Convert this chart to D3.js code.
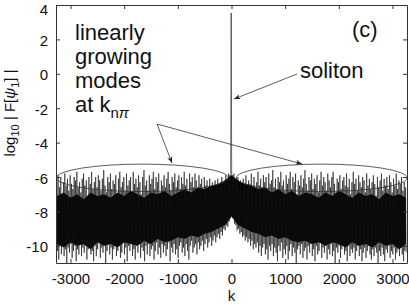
<!DOCTYPE html>
<html>
<head>
<meta charset="utf-8">
<script src="https://cdn.jsdelivr.net/npm/d3@7"></script>
<style>
  body { margin: 0; background: #fff; }
  svg text { font-family: "Liberation Sans", Arial, sans-serif; fill: #111; }
</style>
</head>
<body>
<div id="chart"></div>
<script>
// spectrum sampled every 25 in k, from -3250 to 3250 (index 130 is k = 0)
const kStart = -3250, kStep = 25;
const peaks = [
  -6.2,-5.9,-6.6,-6.0,-7.0,-6.3,-5.8,-6.5,-6.1,-6.8,
  -5.9,-6.4,-6.7,-6.0,-6.2,-5.7,-6.6,-6.3,-6.9,-6.1,
  -5.8,-6.5,-6.2,-7.1,-6.0,-6.4,-5.7,-6.7,-6.3,-6.0,
  -6.6,-5.9,-6.2,-6.8,-6.1,-5.6,-6.5,-6.9,-6.0,-6.3,
  -5.8,-6.7,-6.2,-6.4,-5.9,-7.0,-6.1,-5.7,-6.6,-6.3,
  -6.0,-6.8,-5.8,-6.5,-6.2,-6.0,-6.9,-5.7,-6.4,-6.1,
  -6.6,-5.9,-6.3,-7.0,-6.0,-5.6,-6.5,-6.2,-6.8,-5.9,
  -6.4,-6.1,-5.7,-6.7,-6.0,-6.3,-5.8,-6.9,-6.2,-6.5,
  -5.9,-6.6,-6.1,-5.7,-6.4,-6.8,-6.0,-6.3,-5.8,-6.6,
  -6.2,-5.9,-6.7,-6.0,-6.4,-5.7,-6.5,-6.1,-6.9,-5.8,
  -6.3,-6.0,-6.6,-5.8,-6.2,-6.8,-5.9,-6.4,-6.1,-6.7,
  -6.0,-6.5,-6.2,-6.9,-6.1,-6.6,-6.3,-7.0,-6.2,-6.5,
  -6.1,-6.6,-6.3,-6.0,-6.4,-6.2,-5.9,-6.1,-5.8,-5.9,
  3.54,
  -5.9,-5.8,-6.1,-6.3,-6.0,-6.6,-6.2,-6.8,-6.1,-6.5,
  -5.9,-6.7,-6.2,-6.4,-5.8,-6.6,-6.0,-6.9,-6.3,-5.7,
  -6.5,-6.1,-6.8,-5.9,-6.3,-6.0,-6.7,-5.8,-6.4,-6.2,
  -5.6,-6.6,-6.1,-6.9,-6.0,-6.3,-5.7,-6.5,-6.2,-6.8,
  -5.9,-6.4,-6.1,-5.7,-6.7,-6.0,-6.3,-5.8,-7.0,-6.2,
  -6.5,-5.9,-6.6,-6.1,-5.6,-6.4,-6.8,-6.0,-6.2,-5.8,
  -6.7,-6.1,-6.4,-5.9,-6.9,-6.2,-5.7,-6.5,-6.0,-6.3,
  -6.8,-5.8,-6.2,-6.6,-6.0,-5.7,-6.4,-6.9,-6.1,-6.3,
  -5.9,-6.7,-6.2,-6.0,-6.5,-5.8,-6.6,-6.1,-7.0,-6.3,
  -5.7,-6.4,-6.1,-6.8,-5.9,-6.3,-6.6,-6.0,-6.2,-6.9,
  -5.8,-6.5,-6.1,-6.7,-6.3,-5.9,-6.4,-7.1,-6.0,-6.6,
  -6.2,-5.8,-6.8,-6.1,-6.5,-6.0,-6.7,-5.9,-6.3,-6.9,
  -6.1,-6.5,-5.8,-6.7,-6.2,-6.4,-6.0,-6.8,-6.3,-6.6
];
const troughs = [
  -10.3,-10.8,-10.0,-10.5,-9.8,-10.6,-10.2,-11.0,-10.1,-10.4,
  -9.9,-10.7,-10.3,-10.0,-10.9,-10.2,-10.5,-9.8,-10.6,-10.1,
  -10.4,-10.0,-10.8,-10.2,-9.9,-10.5,-10.3,-10.9,-10.0,-10.6,
  -10.2,-9.8,-10.7,-10.1,-10.4,-10.0,-11.0,-10.3,-9.9,-10.5,
  -10.1,-10.8,-10.2,-9.9,-10.6,-10.3,-10.0,-10.7,-10.4,-9.8,
  -10.5,-10.1,-10.9,-10.0,-10.3,-9.9,-10.6,-10.2,-10.8,-10.0,
  -10.4,-9.8,-10.7,-10.1,-10.3,-10.9,-10.0,-10.5,-9.9,-10.6,
  -10.2,-10.0,-10.8,-10.3,-9.8,-10.5,-10.1,-10.7,-9.9,-10.4,
  -10.0,-10.6,-10.2,-9.8,-10.9,-10.1,-10.4,-9.9,-10.5,-10.2,
  -10.7,-10.0,-9.8,-10.4,-10.1,-10.6,-9.9,-10.3,-10.8,-10.0,
  -9.7,-10.4,-10.1,-9.9,-10.5,-9.8,-10.2,-10.0,-9.7,-10.3,
  -9.9,-9.6,-10.1,-9.8,-9.5,-10.0,-9.7,-9.4,-9.8,-9.5,
  -9.3,-9.6,-9.2,-9.4,-9.0,-9.1,-8.8,-8.9,-8.6,-8.4,
  -8.2,
  -8.4,-8.7,-8.8,-9.1,-9.0,-9.3,-9.2,-9.5,-9.4,-9.7,
  -9.5,-9.8,-9.6,-10.0,-9.7,-10.2,-9.9,-10.1,-9.8,-10.4,
  -10.0,-10.6,-10.1,-9.9,-10.5,-10.2,-10.8,-10.0,-10.3,-9.9,
  -10.6,-10.1,-10.4,-10.9,-10.0,-10.3,-9.8,-10.7,-10.2,-10.5,
  -10.0,-10.8,-10.3,-9.9,-10.6,-10.1,-10.4,-11.0,-10.2,-10.0,
  -10.5,-9.9,-10.7,-10.3,-10.1,-10.8,-10.0,-10.4,-9.9,-10.6,
  -10.2,-10.9,-10.0,-10.5,-10.3,-9.8,-10.7,-10.1,-10.4,-10.0,
  -10.8,-10.2,-10.5,-9.9,-10.6,-10.3,-11.0,-10.1,-10.4,-10.0,
  -10.7,-10.2,-9.9,-10.5,-10.3,-10.9,-10.0,-10.6,-10.2,-10.4,
  -10.1,-10.8,-10.3,-10.0,-10.6,-10.2,-10.9,-10.4,-10.1,-10.7,
  -10.3,-10.0,-10.5,-10.8,-10.2,-10.6,-10.1,-10.4,-11.0,-10.3,
  -10.6,-10.1,-10.5,-10.9,-10.2,-10.4,-10.0,-10.7,-10.3,-10.5,
  -10.1,-10.8,-10.4,-10.2,-10.6,-10.0,-10.5,-10.9,-10.3,-10.4
];

// dense (solid black) part of the noise, every 125 in k from -3250 (index 26 is k = 0)
const coreStart = -3250, coreStep = 125;
const coreTop = [
  -7.1,-6.9,-7.2,-7.0,-7.3,-6.9,-7.1,-7.0,-7.2,-6.9,
  -7.1,-6.8,-7.0,-7.2,-6.9,-7.0,-6.8,-7.1,-6.9,-6.7,
  -6.9,-6.6,-6.7,-6.5,-6.4,-6.2,-5.9,
  -6.2,-6.4,-6.5,-6.7,-6.6,-6.9,-6.7,-7.0,-6.8,-7.1,
  -6.9,-7.0,-7.2,-6.9,-7.1,-6.8,-7.0,-7.2,-6.9,-7.1,
  -7.0,-7.3,-6.9,-7.1,-7.0,-7.2
];
const coreBot = [
  -9.9,-10.1,-9.8,-10.0,-9.9,-10.2,-9.8,-10.0,-9.9,-10.1,
  -9.8,-9.9,-10.0,-9.7,-9.9,-9.6,-9.8,-9.7,-9.5,-9.6,
  -9.4,-9.5,-9.3,-9.2,-9.0,-8.8,-8.3,
  -8.8,-9.0,-9.2,-9.3,-9.5,-9.4,-9.6,-9.5,-9.7,-9.8,
  -9.7,-9.9,-9.8,-10.0,-9.8,-9.9,-10.1,-9.8,-10.0,-9.9,
  -10.1,-9.8,-10.0,-9.9,-10.2,-9.9
];

const xTicks = [-3000,-2000,-1000,0,1000,2000,3000];
const yTicks = [-10,-8,-6,-4,-2,0,2,4];

// ellipses around the linearly growing modes: [centre k, centre value, radius k, radius value]
const ellipses = [[-1660,-6.05,1600,0.8],[1680,-6.05,1590,0.8]];

const W = 409, H = 305;
const margin = {left: 56, right: 2, top: 5, bottom: 42};
const iw = W - margin.left - margin.right, ih = H - margin.top - margin.bottom;

const svg = d3.select('#chart').append('svg')
  .attr('width', W).attr('height', H);

const x = d3.scaleLinear().domain([-3270, 3270]).range([margin.left, margin.left + iw]);
const y = d3.scaleLinear().domain([-11, 4]).range([margin.top + ih, margin.top]);

svg.append('clipPath').attr('id', 'clip')
  .append('rect').attr('x', margin.left).attr('y', margin.top).attr('width', iw).attr('height', ih);

const plot = svg.append('g').attr('clip-path', 'url(#clip)');

// solid core
plot.append('path')
  .datum(coreTop.map((t, i) => [coreStart + i * coreStep, t, coreBot[i]]))
  .attr('fill', '#000')
  .attr('d', d3.area().x(d => x(d[0])).y0(d => y(d[2])).y1(d => y(d[1])));

// zig-zag trace between peaks and troughs
const pts = [];
peaks.forEach((p, i) => {
  const k = kStart + i * kStep;
  pts.push([k - 6, p]);
  pts.push([k + 6, troughs[i]]);
});
plot.append('path')
  .datum(pts)
  .attr('fill', 'none')
  .attr('stroke', '#111')
  .attr('stroke-width', 0.6)
  .attr('d', d3.line().x(d => x(d[0])).y(d => y(d[1])));

// axes box with inward ticks
const axisColor = '#333';
const fmt = d => String(d);
const gx = svg.append('g').attr('transform', `translate(0,${margin.top + ih})`)
  .call(d3.axisBottom(x).tickValues(xTicks).tickFormat(fmt).tickSize(-4).tickPadding(10).tickSizeOuter(0));
const gxt = svg.append('g').attr('transform', `translate(0,${margin.top})`)
  .call(d3.axisTop(x).tickValues(xTicks).tickSize(-4).tickSizeOuter(0).tickFormat(''));
const gy = svg.append('g').attr('transform', `translate(${margin.left},0)`)
  .call(d3.axisLeft(y).tickValues(yTicks).tickFormat(fmt).tickSize(-4).tickPadding(8).tickSizeOuter(0));
const gyr = svg.append('g').attr('transform', `translate(${margin.left + iw},0)`)
  .call(d3.axisRight(y).tickValues(yTicks).tickSize(-4).tickSizeOuter(0).tickFormat(''));
[gx, gxt, gy, gyr].forEach(g => {
  g.selectAll('path').attr('stroke', axisColor);
  g.selectAll('line').attr('stroke', axisColor);
  g.selectAll('text').style('font-size', '15px').attr('fill', '#111');
});
gy.selectAll('.tick text').attr('dy', d => d === 4 ? '0.6em' : '0.4em');

// ellipses
plot.selectAll('ellipse').data(ellipses).enter().append('ellipse')
  .attr('cx', d => x(d[0])).attr('cy', d => y(d[1]))
  .attr('rx', d => x(d[0] + d[2]) - x(d[0])).attr('ry', d => y(d[1] - d[3]) - y(d[1]))
  .attr('fill', 'none').attr('stroke', '#333').attr('stroke-width', 0.8);

// labels
svg.append('text').attr('x', x(0)).attr('y', 301).attr('text-anchor', 'middle')
  .style('font-size', '15px').text('k');

const yl = svg.append('text').attr('transform', 'translate(15,113) rotate(-90)')
  .attr('text-anchor', 'middle').style('font-size', '15px');
yl.append('tspan').text('log');
yl.append('tspan').attr('dy', 4).style('font-size', '11px').text('10');
yl.append('tspan').attr('dy', -4).text(' | F[');
yl.append('tspan').style('font-style', 'italic').text('ψ');
yl.append('tspan').attr('dy', 4).style('font-size', '11px').text('1');
yl.append('tspan').attr('dy', -4).text('] |');

// annotations
const ann = svg.append('g').style('font-size', '22px');
['linearly', 'growing', 'modes'].forEach((t, i) => {
  ann.append('text').attr('x', 75).attr('y', 40 + i * 24).text(t);
});
const at = ann.append('text').attr('x', 75).attr('y', 112);
at.append('tspan').text('at  k');
at.append('tspan').attr('dy', 6).style('font-size', '15px').text('n');
at.append('tspan').style('font-size', '15px').style('font-style', 'italic').text('π');
ann.append('text').attr('x', 352).attr('y', 37).text('(c)');
ann.append('text').attr('x', 300).attr('y', 78).text('soliton');

svg.append('defs').append('marker').attr('id', 'arr')
  .attr('viewBox', '0 0 10 10').attr('refX', 10).attr('refY', 5)
  .attr('markerWidth', 8).attr('markerHeight', 8).attr('orient', 'auto-start-reverse')
  .append('path').attr('d', 'M0,1 L10,5 L0,9 L3,5 Z').attr('fill', '#222');

const arrows = [[[297, 74], [234, 99]], [[157, 124], [172, 163]], [[157, 124], [302, 164]]];
svg.selectAll('.arrow').data(arrows).enter().append('line').attr('class', 'arrow')
  .attr('x1', d => d[0][0]).attr('y1', d => d[0][1])
  .attr('x2', d => d[1][0]).attr('y2', d => d[1][1])
  .attr('stroke', '#333').attr('stroke-width', 0.8).attr('marker-end', 'url(#arr)');
</script>
</body>
</html>
